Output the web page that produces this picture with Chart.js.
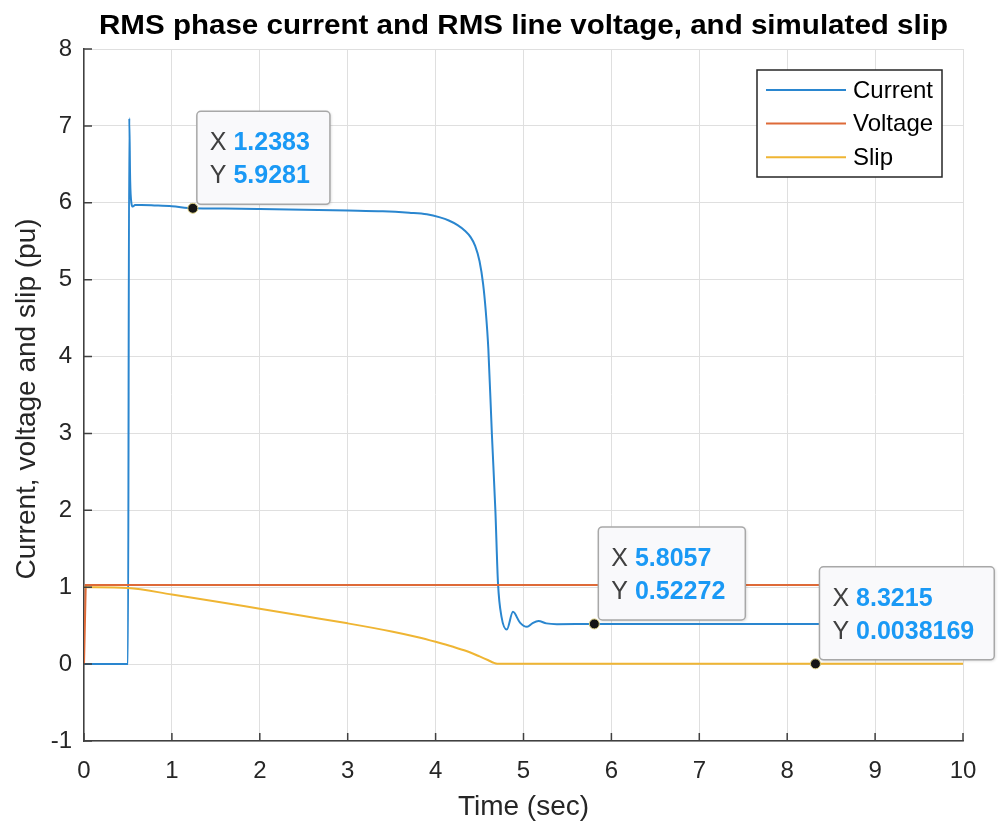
<!DOCTYPE html>
<html><head><meta charset="utf-8">
<script src="https://cdn.jsdelivr.net/npm/chart.js@4"></script>
<style>html,body{margin:0;padding:0;background:#fff}</style>
</head><body>
<canvas id="c" width="998" height="825"></canvas>
<script>
// ---- data ----
const currentT = [0, 0.5, 0.515, 0.525, 0.54, 0.555, 0.58, 0.65, 0.8, 1.0, 1.2383, 1.6, 2.0, 2.5, 3.0, 3.4, 3.7, 3.9, 4.05, 4.15, 4.25, 4.33, 4.4, 4.45, 4.5, 4.54, 4.57, 4.6, 4.64, 4.68, 4.71, 4.75, 4.81, 4.88, 4.96, 5.04, 5.1, 5.17, 5.26, 5.38, 5.8057, 7, 8.5, 10];
const currentV = [0, 0, 7.1, 6.3, 5.99, 5.95, 5.97, 5.97, 5.965, 5.955, 5.9281, 5.925, 5.92, 5.91, 5.90, 5.89, 5.87, 5.85, 5.81, 5.77, 5.71, 5.64, 5.55, 5.44, 5.24, 4.95, 4.6, 4.1, 3.0, 2.0, 1.05, 0.615, 0.45, 0.68, 0.54, 0.485, 0.53, 0.56, 0.53, 0.52, 0.52272, 0.5227, 0.5227, 0.5227];
const voltageT = [0, 0.02, 10];
const voltageV = [0, 1.03, 1.03];
const slipT = [0, 0.5, 1, 1.5, 2, 2.5, 3, 3.5, 3.8, 4.0, 4.2, 4.35, 4.5, 4.6, 4.66, 4.7, 4.75, 8.3215, 10];
const slipV = [1.0, 0.99, 0.905, 0.815, 0.72, 0.625, 0.53, 0.425, 0.35, 0.29, 0.225, 0.17, 0.1, 0.05, 0.018, 0.005, 0.0038, 0.0038169, 0.0038];
const seriesNames = ['Current', 'Voltage', 'Slip'];
const xTicks = [0,1,2,3,4,5,6,7,8,9,10];
const yTicks = [-1,0,1,2,3,4,5,6,7,8];
const tipX = [1.2383, 5.8057, 8.3215];
const tipY = [5.9281, 0.52272, 0.0038169];
const titleText = 'RMS phase current and RMS line voltage, and simulated slip';
const xLabel = 'Time (sec)';
const yLabel = 'Current, voltage and slip (pu)';

const colors = ['#2a86cf', '#de6a38', '#efb533'];
const FONT = '"Liberation Sans", Arial, sans-serif';
const pts = (t, v) => t.map((x, i) => ({x, y: v[i]}));

const decor = {
  id: 'decor',
  afterDraw(chart) {
    const ctx = chart.ctx, a = chart.chartArea;
    const xs = chart.scales.x, ys = chart.scales.y;
    ctx.save();
    // inward ticks
    ctx.strokeStyle = '#404040'; ctx.lineWidth = 1.5;
    ctx.beginPath();
    yTicks.forEach(v => { const p = ys.getPixelForValue(v); ctx.moveTo(a.left, p); ctx.lineTo(a.left + 8, p); });
    xTicks.forEach(v => { const p = xs.getPixelForValue(v); ctx.moveTo(p, a.bottom); ctx.lineTo(p, a.bottom - 8); });
    ctx.stroke();
    // title
    ctx.fillStyle = '#000';
    ctx.font = 'bold 27px ' + FONT;
    ctx.textAlign = 'center'; ctx.textBaseline = 'alphabetic';
    const tw = ctx.measureText(titleText).width;
    ctx.save();
    ctx.translate((a.left + a.right) / 2, 34);
    ctx.scale(849 / tw, 1);
    ctx.fillText(titleText, 0, 0);
    ctx.restore();
    // axis labels
    ctx.fillStyle = '#262626';
    ctx.font = '28px ' + FONT;
    ctx.fillText(xLabel, (a.left + a.right) / 2, 815);
    ctx.save();
    ctx.translate(35, (a.top + a.bottom) / 2 + 4);
    ctx.rotate(-Math.PI / 2);
    ctx.fillText(yLabel, 0, 0);
    ctx.restore();
    // legend
    const lx = 757, ly = 70, lw = 185, lh = 107;
    ctx.fillStyle = '#fff'; ctx.fillRect(lx, ly, lw, lh);
    ctx.strokeStyle = '#262626'; ctx.lineWidth = 1.5; ctx.strokeRect(lx, ly, lw, lh);
    ctx.font = '24px ' + FONT; ctx.textAlign = 'left'; ctx.textBaseline = 'middle';
    seriesNames.forEach((n, i) => {
      const y = 90 + i * 33.6;
      ctx.strokeStyle = colors[i]; ctx.lineWidth = 2;
      ctx.beginPath(); ctx.moveTo(766, y); ctx.lineTo(846, y); ctx.stroke();
      ctx.fillStyle = '#000'; ctx.fillText(n, 853, y + 1);
    });
    // data tips
    tipX.forEach((xv, i) => {
      const px = xs.getPixelForValue(xv), py = ys.getPixelForValue(tipY[i]);
      const xt = String(xv), yt = String(tipY[i]);
      ctx.font = '25px ' + FONT;
      const lwX = ctx.measureText('X ').width;
      ctx.font = 'bold 25px ' + FONT;
      const vw = Math.max(ctx.measureText(xt).width, ctx.measureText(yt).width);
      const w = 13 + lwX + vw + 20, h = 93;
      const left = px + 4, bottom = py - 4, top = bottom - h;
      ctx.save();
      ctx.shadowColor = 'rgba(0,0,0,0.18)'; ctx.shadowBlur = 3; ctx.shadowOffsetX = 1; ctx.shadowOffsetY = 1;
      ctx.fillStyle = '#f9f9fb';
      ctx.beginPath(); ctx.roundRect(left, top, w, h, 4); ctx.fill();
      ctx.restore();
      ctx.strokeStyle = '#a8a8a8'; ctx.lineWidth = 1.5;
      ctx.beginPath(); ctx.roundRect(left, top, w, h, 4); ctx.stroke();
      ctx.textBaseline = 'middle'; ctx.textAlign = 'left';
      ctx.font = '25px ' + FONT; ctx.fillStyle = '#404040';
      ctx.fillText('X ', left + 13, top + 32);
      ctx.fillText('Y ', left + 13, top + 65);
      ctx.font = 'bold 25px ' + FONT; ctx.fillStyle = '#1a99f5';
      ctx.fillText(xt, left + 13 + lwX, top + 32);
      ctx.fillText(yt, left + 13 + lwX, top + 65);
      ctx.beginPath(); ctx.arc(px, py, 5, 0, Math.PI * 2);
      ctx.fillStyle = '#151515'; ctx.fill();
      ctx.strokeStyle = '#d9cc80'; ctx.lineWidth = 1; ctx.stroke();
    });
    ctx.restore();
  }
};

new Chart(document.getElementById('c'), {
  type: 'line',
  data: {
    datasets: [
      {label: seriesNames[0], data: pts(currentT, currentV), borderColor: colors[0], order: 3, cubicInterpolationMode: 'monotone'},
      {label: seriesNames[1], data: pts(voltageT, voltageV), borderColor: colors[1], order: 2},
      {label: seriesNames[2], data: pts(slipT, slipV), borderColor: colors[2], order: 1, cubicInterpolationMode: 'monotone'}
    ]
  },
  options: {
    responsive: false, animation: false, devicePixelRatio: 1,
    layout: {padding: {top: 49, right: 35, left: 0, bottom: 0}},
    elements: {point: {radius: 0}, line: {borderWidth: 2, fill: false}},
    plugins: {legend: {display: false}, title: {display: false}, tooltip: {enabled: false}},
    scales: {
      x: {
        type: 'linear', min: 0, max: 10,
        afterFit: s => { s.height = 84; },
        afterBuildTicks: s => { s.ticks = xTicks.map(v => ({value: v})); },
        ticks: {font: {family: FONT, size: 24}, color: '#262626', padding: 16, maxRotation: 0},
        grid: {color: '#dfdfdf', lineWidth: 1, drawTicks: false},
        border: {display: true, color: '#404040', width: 1.5}
      },
      y: {
        type: 'linear', min: -1, max: 8,
        afterFit: s => { s.width = 84; },
        afterBuildTicks: s => { s.ticks = yTicks.map(v => ({value: v})); },
        ticks: {font: {family: FONT, size: 24}, color: '#262626', padding: 12},
        grid: {color: '#dfdfdf', lineWidth: 1, drawTicks: false},
        border: {display: true, color: '#404040', width: 1.5}
      }
    }
  },
  plugins: [decor]
});
</script>
</body></html>
